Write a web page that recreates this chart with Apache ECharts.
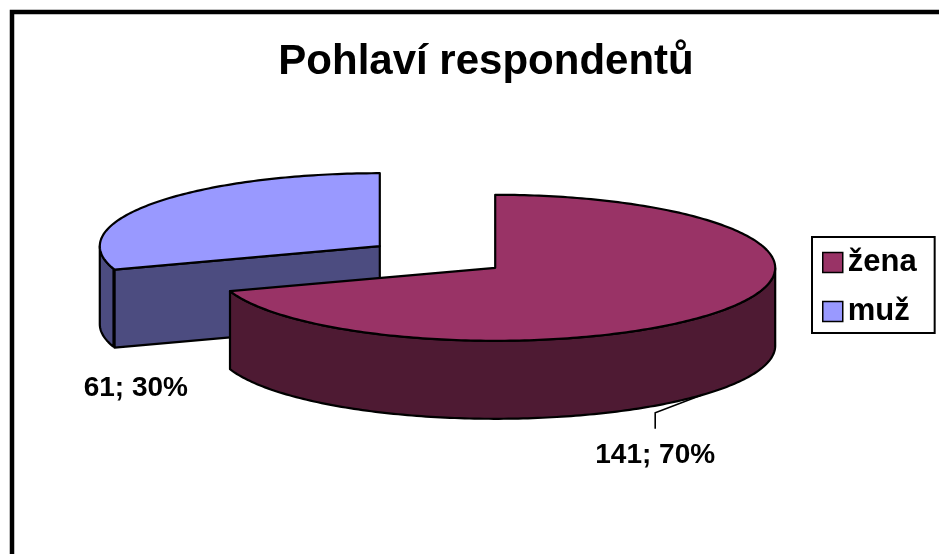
<!DOCTYPE html>
<html>
<head>
<meta charset="utf-8">
<title>Pohlaví respondentů</title>
<script src="https://cdn.jsdelivr.net/npm/echarts@6/dist/echarts.min.js"></script>
<style>
  html, body { margin: 0; padding: 0; background: #fff; }
  #chart { width: 939px; height: 554px; }
</style>
</head>
<body>
<div id="chart"></div>
<script>
// data
const categories = ['žena', 'muž']
const counts = [141, 61]
const topColors = ['#993366', '#9999ff']
const sideColors = ['#4e1a33', '#4c4c80']

// layout of the tilted pie (pixels)
const pie = { cx: 437.5, cy: 257, rx: 280, ry: 73, depth: 78, explode: 71 }
// label placement relative to each exploded slice centre
const labelOffsets = [[160, 187], [-244, 142]]
const leaderAngleShift = [-7, null]

const FONT = 'Arial, "Liberation Sans", sans-serif'
const total = counts.reduce((a, b) => a + b, 0)
const rad = (d) => d * Math.PI / 180

// start/end angles in degrees, counter-clockwise maths convention, going clockwise from 12 o'clock
const sliceAngles = []
let acc = 0
for (let i = 0; i < counts.length; i++) {
    const a = 90 - acc / total * 360
    acc += counts[i]
    const b = 90 - acc / total * 360
    sliceAngles.push([a, b])
}

function renderSlice(params, api) {
    const i = params.seriesIndex
    const [a, b] = sliceAngles[i]
    const mid = (a + b) / 2
    const cx = pie.cx + pie.explode * Math.cos(rad(mid))
    const cy = pie.cy - pie.explode * Math.sin(rad(mid)) * pie.ry / pie.rx
    const pt = (t, dz) => [cx + pie.rx * Math.cos(rad(t)), cy - pie.ry * Math.sin(rad(t)) + (dz || 0)]
    const line = { stroke: '#000', lineWidth: 2.2, lineJoin: 'round' }
    const children = []

    // radial walls that face the viewer
    const wall = (t) => ({
        type: 'polygon',
        shape: { points: [[cx, cy], pt(t), pt(t, pie.depth), [cx, cy + pie.depth]] },
        style: Object.assign({ fill: sideColors[i] }, line)
    })
    if (Math.cos(rad(a)) < -1e-6) children.push(wall(a))
    if (Math.cos(rad(b)) > 1e-6) children.push(wall(b))

    // outer curved wall, front half only
    for (let k = -2; k <= 1; k++) {
        const lo = Math.max(b, -180 + 360 * k)
        const hi = Math.min(a, 360 * k)
        if (hi - lo <= 0) continue
        const top = []
        const bottom = []
        for (let t = lo; t <= hi + 1e-9; t += Math.min(1, hi - lo)) {
            top.push(pt(t))
            bottom.push(pt(t, pie.depth))
        }
        children.push({
            type: 'polygon',
            shape: { points: top.concat(bottom.reverse()) },
            style: Object.assign({ fill: sideColors[i] }, line)
        })
    }

    // top face
    const face = [[cx, cy]]
    for (let t = a; t >= b - 1e-9; t -= 1) face.push(pt(t))
    face.push(pt(b))
    children.push({
        type: 'polygon',
        shape: { points: face },
        style: Object.assign({ fill: topColors[i] }, line)
    })

    // data label
    const lx = cx + labelOffsets[i][0]
    const ly = cy + labelOffsets[i][1]
    const pct = Math.round(counts[i] / total * 100)
    children.push({
        type: 'text',
        style: {
            text: counts[i] + '; ' + pct + '%',
            x: lx, y: ly,
            align: 'center', verticalAlign: 'middle',
            font: 'bold 28px ' + FONT,
            fill: '#000'
        }
    })
    if (leaderAngleShift[i] !== null) {
        const end = pt(mid + leaderAngleShift[i], pie.depth)
        children.push({
            type: 'polyline',
            shape: { points: [[lx, ly - 26], [lx, ly - 42], end] },
            style: { stroke: '#000', lineWidth: 1.6, fill: null }
        })
    }
    return { type: 'group', children }
}

const chart = echarts.init(document.getElementById('chart'))
chart.setOption({
    animation: false,
    backgroundColor: '#fff',
    title: {
        text: 'Pohlaví respondentů',
        left: 481,
        textAlign: 'center',
        top: 36,
        textStyle: { fontSize: 42, fontWeight: 'bold', color: '#000', fontFamily: FONT }
    },
    legend: {
        orient: 'vertical',
        left: 812,
        top: 237,
        data: categories,
        icon: 'rect',
        itemWidth: 20,
        itemHeight: 20,
        itemGap: 18,
        padding: [10, 18, 6, 10],
        borderColor: '#000',
        borderWidth: 2,
        borderRadius: 0,
        selectedMode: false,
        itemStyle: { borderColor: '#000', borderWidth: 1.5 },
        textStyle: { fontSize: 31, fontWeight: 'bold', color: '#000', fontFamily: FONT }
    },
    graphic: [{
        type: 'rect',
        shape: { x: 12, y: 12, width: 1000, height: 1000 },
        style: { fill: null, stroke: '#000', lineWidth: 4.5 }
    }],
    series: categories.map((name, i) => ({
        type: 'custom',
        name: name,
        coordinateSystem: 'none',
        z: 10 - Math.round(Math.sin(rad((sliceAngles[i][0] + sliceAngles[i][1]) / 2))),
        itemStyle: { color: topColors[i] },
        data: [counts[i]],
        renderItem: renderSlice
    }))
})
</script>
</body>
</html>
